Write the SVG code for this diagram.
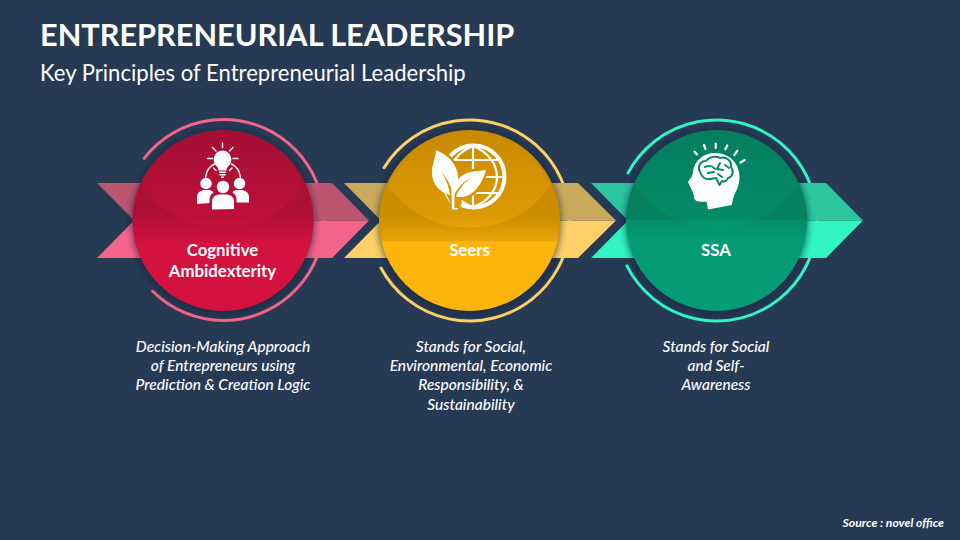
<svg xmlns="http://www.w3.org/2000/svg" width="960" height="540" viewBox="0 0 960 540">
<style>
text{font-family:"Lato","Carlito","Liberation Sans",sans-serif;fill:#fff}
.t{font-weight:700;font-size:30.7px}
.s{font-weight:400;font-size:22.1px}
.l{font-weight:700;font-size:16.8px;text-anchor:middle}
.d{font-style:italic;font-weight:500;font-size:15.5px;text-anchor:middle}
.src{font-style:italic;font-weight:700;font-size:12.2px;text-anchor:end}
.ring{fill:none;stroke-width:3;stroke-linecap:round}
.ic{fill:#fff}
.icl{fill:none;stroke:#fff;stroke-linecap:round}
</style>
<defs>
<filter id="sh" x="-20%" y="-20%" width="140%" height="140%"><feGaussianBlur stdDeviation="3.500"/></filter>
<linearGradient id="gr" x1="0" y1="0" x2="0" y2="1"><stop offset="0" stop-color="#a30f32"/><stop offset=".48" stop-color="#b00f36"/><stop offset=".63" stop-color="#d31240"/><stop offset="1" stop-color="#d31240"/></linearGradient>
<linearGradient id="gy" x1="0" y1="0" x2="0" y2="1"><stop offset="0" stop-color="#c98a00"/><stop offset=".48" stop-color="#cc8e00"/><stop offset=".61" stop-color="#e8a406"/><stop offset=".62" stop-color="#fdb50c"/><stop offset="1" stop-color="#fdb50c"/></linearGradient>
<linearGradient id="gg" x1="0" y1="0" x2="0" y2="1"><stop offset="0" stop-color="#047f60"/><stop offset=".49" stop-color="#04815f"/><stop offset=".5" stop-color="#048d6a"/><stop offset=".62" stop-color="#049c76"/><stop offset="1" stop-color="#049c76"/></linearGradient>
<linearGradient id="br" x1="0" y1="0" x2="0" y2="1"><stop offset="0" stop-color="#d31240" stop-opacity="0"/><stop offset="1" stop-color="#d31240" stop-opacity=".38"/></linearGradient>
<linearGradient id="by" x1="0" y1="0" x2="0" y2="1"><stop offset="0" stop-color="#fdb50c" stop-opacity="0"/><stop offset="1" stop-color="#fdb50c" stop-opacity=".38"/></linearGradient>
<linearGradient id="bg" x1="0" y1="0" x2="0" y2="1"><stop offset="0" stop-color="#049c76" stop-opacity="0"/><stop offset="1" stop-color="#049c76" stop-opacity=".38"/></linearGradient>
<path id="bowl" d="M-81-36A90 90 0 0 1 81-36C62-6 32 7 0 7C-32 7-62-6-81-36Z"/>
<mask id="gm" maskUnits="userSpaceOnUse" x="430" y="135" width="90" height="85">
<rect x="430" y="135" width="90" height="85" fill="#fff"/>
<path fill="#000" stroke="#000" stroke-width="5" d="M436 150C450 156 458 166 458 180L456 208L443 188L432 170C433 162 436 156 436 150ZM486 170C481 188 470 198 460 197L458 207L456 196C454 186 457 177 467 173C473 171 480 171 486 170Z"/>
</mask>
</defs>
<rect width="960" height="540" fill="#263a54"/>
<text class="t" x="40" y="45.500">ENTREPRENEURIAL LEADERSHIP</text>
<text class="s" x="40" y="81">Key Principles of Entrepreneurial Leadership</text>
<g id="node-cognitive">
<path class="ring" stroke="#f5648a" d="M144.100 158.300A100.500 100.500 0 1 1 152.700 291.300"/>
<path fill="#f5648a" d="M97 258L134 220.500H369L332 258Z"/>
<path fill="#bd5570" d="M97 183L134 220.500H369L332 183Z"/>
<circle cx="223" cy="222" r="91" fill="#121f33" fill-opacity=".65" filter="url(#sh)"/>
<circle cx="223" cy="220.500" r="90.500" fill="url(#gr)"/>
<use href="#bowl" x="223" y="220.500" fill="url(#br)"/>
<g id="icon-people">
<g class="icl" stroke-width="1.400"><path d="M222.500 143V147.500M212.500 147.500L216 151M233 147.500L229.500 151M207.500 158.500H212.500M238 158.500H233"/><path d="M205.500 177.500C206.500 170 210 166 214.500 164M240.500 177.500C239.500 170 236 166 231.500 164"/><path d="M213.500 168L216 170.500M232 168L229.500 170.500"/></g>
<path class="ic" d="M222.500 150.500A9 9 0 0 1 228.500 166C227 167.500 226.500 169 226.500 170.500H218.500C218.500 169 218 167.500 216.500 166A9 9 0 0 1 222.500 150.500ZM219 171.500H226V173H219ZM219.500 174H225.500V175.500H219.500ZM221 176.500H224V178H221Z"/>
<circle class="ic" cx="206" cy="183.500" r="5.700"/><circle class="ic" cx="239.500" cy="183.500" r="5.700"/><circle class="ic" cx="223" cy="187" r="6.200"/>
<path class="ic" d="M197 204V197C197 192.500 201 190 205 190H208C211 190 212.500 191 213.500 192.500C211 194 209.500 196.500 209.500 199V203Z"/>
<path class="ic" d="M249 202.500V197C249 192.500 245 190 241 190H238C235 190 233 191 232.500 192.500C235 194 236.500 196.500 236.500 199V202.500Z"/>
<path class="ic" d="M212 209.500V201C212 197 216 194.500 220 194.500H226C230 194.500 234 197 234 201V209Z"/>
</g>
<text class="l" x="222.500" y="256">Cognitive</text>
<text class="l" x="222.500" y="277">Ambidexterity</text>
<text class="d" x="223" y="352">Decision-Making Approach</text>
<text class="d" x="223" y="371">of Entrepreneurs using</text>
<text class="d" x="223" y="390">Prediction &amp; Creation Logic</text>
</g>
<g id="node-seers">
<path class="ring" stroke="#ffd067" d="M384 167.700A100.500 100.500 0 1 1 381 268"/>
<path fill="#ffd067" d="M344 258L381 220.500H616L578 258Z"/>
<path fill="#c9a95a" d="M344 183L381 220.500H616L578 183Z"/>
<circle cx="469.500" cy="222" r="91" fill="#121f33" fill-opacity=".65" filter="url(#sh)"/>
<circle cx="469.500" cy="220.500" r="90.500" fill="url(#gy)"/>
<use href="#bowl" x="469.500" y="220.500" fill="url(#by)"/>
<g id="icon-globe">
<g mask="url(#gm)">
<circle cx="473.500" cy="176.500" r="31" fill="none" stroke="#fff" stroke-width="4"/>
<g class="icl" stroke-width="2.200"><path d="M473 147V206M449 160H497M447 177H504M449 193H497"/><path d="M473 146C458 152 449 164 449 177C449 190 458 202 473 207M473 146C488 152 497 164 497 177C497 190 488 202 473 207"/></g>
</g>
<path class="ic" d="M436 150C450 156 458 166 458 178C458 184 455 190 453 194C451 186 447 178 441 171C446 179 449 187 450 195C438 192 431 182 432 170C433 162 436 156 436 150Z"/>
<path class="ic" d="M486 170C481 188 470 198 460 197C458 197 457 197 456 196C460 187 465 182 471 178C464 181 458 187 454 195C452 186 457 177 467 173C473 171 480 171 486 170Z"/>
<path class="ic" d="M442 189C446 193 449 199 451 205C448 200 445 195 442 189Z"/>
<path class="ic" d="M451 180L454.500 182V208H458V209.500H452Z"/>
</g>
<text class="l" x="469.500" y="256">Seers</text>
<text class="d" x="471" y="352">Stands for Social,</text>
<text class="d" x="471" y="371">Environmental, Economic</text>
<text class="d" x="471" y="390">Responsibility, &amp;</text>
<text class="d" x="471" y="410">Sustainability</text>
</g>
<g id="node-ssa">
<path class="ring" stroke="#30f5c2" d="M628 173A100.500 100.500 0 1 1 626.900 265.900"/>
<path fill="#30f5c2" d="M591 258L628 220.500H863L826 258Z"/>
<path fill="#2cc69f" d="M591 183L628 220.500H863L826 183Z"/>
<circle cx="716.500" cy="222" r="91" fill="#121f33" fill-opacity=".65" filter="url(#sh)"/>
<circle cx="716.500" cy="220.500" r="90.500" fill="url(#gg)"/>
<use href="#bowl" x="716.500" y="220.500" fill="url(#bg)"/>
<g id="icon-brain">
<g class="icl" stroke-width="2.200"><path d="M694.500 151.700L697 154.500M704 145L705.500 149M715.700 143.500V148M727.300 145.500L725.300 149.300M737.300 151L734.300 155M744.700 160L740.500 162.500"/></g>
<path class="ic" d="M715 153C730 153 739.500 164 739.500 177C739.500 186 735.500 192 733.500 197L731.700 205L708 209.500L706.700 201.700C702 202 696 202 694.500 199L693 192.500L688 182C691 178 692.500 176 693 172C694 161 703 153 715 153Z"/>
<path fill="none" stroke="#04876a" stroke-width="2" stroke-linejoin="round" stroke-linecap="round" d="M700 172C697 167 700 161 706 161C710 156 717 156 720 158C726 156 732 161 731 167C734 171 733 177 728 178C727 181 724 182 722 181L719.500 185L716 178L710 179C705 180 702 177 700 172ZM705 167C709 165 713 166 715 169M720 163L717 169L723 170M708 173L714 172M718 174L722 177M725 165L729 168"/>
</g>
<text class="l" x="716" y="256">SSA</text>
<text class="d" x="716" y="352">Stands for Social</text>
<text class="d" x="716" y="371">and Self-</text>
<text class="d" x="716" y="390">Awareness</text>
</g>
<text class="src" x="944" y="527">Source : novel office</text>
</svg>
